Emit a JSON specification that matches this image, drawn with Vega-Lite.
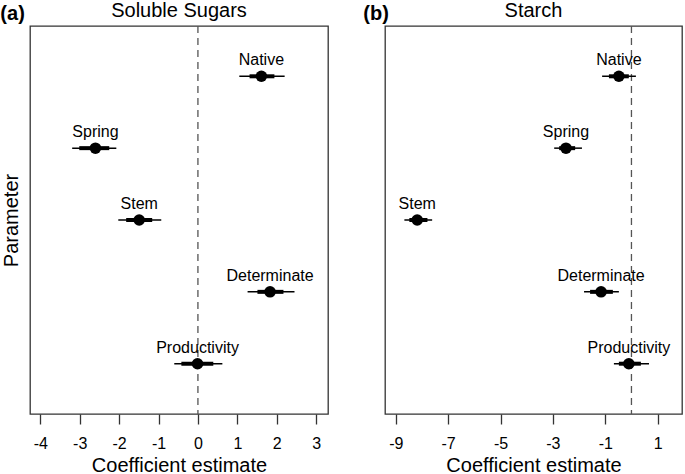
{
  "$schema": "https://vega.github.io/schema/vega-lite/v6.json",
  "padding": {"left": 0, "top": 0, "right": 0, "bottom": 0},
  "config": {
    "font": "Liberation Sans",
    "view": {"stroke": "#333", "strokeWidth": 1.3},
    "axis": {"grid": false, "labelFontSize": 16, "labelColor": "#000", "titleFontSize": 20, "titleFontWeight": "normal", "titleColor": "#000", "tickColor": "#333", "tickSize": 10, "tickWidth": 1.3, "domain": false, "labelPadding": 11, "titlePadding": 4, "labelExpr": "'' + datum.value"},
    "title": {"fontSize": 20, "fontWeight": "normal", "color": "#000", "offset": 4},
    "concat": {"spacing": 34}
  },
  "datasets": {
    "est": [
      {"panel": "a", "param": "Native", "pos": 5, "est": 1.61, "lo": 1.05, "hi": 2.20, "lo50": 1.31, "hi50": 1.94},
      {"panel": "a", "param": "Spring", "pos": 4, "est": -2.60, "lo": -3.19, "hi": -2.07, "lo50": -3.01, "hi50": -2.25},
      {"panel": "a", "param": "Stem", "pos": 3, "est": -1.49, "lo": -2.02, "hi": -0.93, "lo50": -1.82, "hi50": -1.16},
      {"panel": "a", "param": "Determinate", "pos": 2, "est": 1.83, "lo": 1.26, "hi": 2.45, "lo50": 1.51, "hi50": 2.17},
      {"panel": "a", "param": "Productivity", "pos": 1, "est": -0.01, "lo": -0.60, "hi": 0.62, "lo50": -0.42, "hi50": 0.39},
      {"panel": "b", "param": "Native", "pos": 5, "est": -0.48, "lo": -1.12, "hi": 0.17, "lo50": -0.86, "hi50": -0.10},
      {"panel": "b", "param": "Spring", "pos": 4, "est": -2.50, "lo": -2.95, "hi": -1.89, "lo50": -2.76, "hi50": -2.15},
      {"panel": "b", "param": "Stem", "pos": 3, "est": -8.18, "lo": -8.67, "hi": -7.61, "lo50": -8.48, "hi50": -7.79},
      {"panel": "b", "param": "Determinate", "pos": 2, "est": -1.16, "lo": -1.81, "hi": -0.48, "lo50": -1.58, "hi50": -0.71},
      {"panel": "b", "param": "Productivity", "pos": 1, "est": -0.10, "lo": -0.67, "hi": 0.67, "lo50": -0.48, "hi50": 0.36}
    ]
  },
  "hconcat": [
    {
      "title": {"text": "(a)", "anchor": "start", "fontWeight": "bold", "dy": 27},
      "vconcat": [
        {
          "width": 298, "height": 388,
          "title": "Soluble Sugars",
          "data": {"name": "est"},
          "layer": [
            {
              "data": {"values": [{"z": 0}]},
              "mark": {"type": "rule", "strokeDash": [7, 5], "color": "#555", "strokeWidth": 1.3},
              "encoding": {"x": {"field": "z", "type": "quantitative", "scale": {"domain": [-4.26, 3.30], "nice": false, "zero": false}, "axis": {"values": [-4, -3, -2, -1, 0, 1, 2, 3], "title": "Coefficient estimate"}}}
            },
            {
              "transform": [{"filter": "datum.panel == 'a'"}],
              "mark": {"type": "rule", "color": "#000", "strokeWidth": 1.5},
              "encoding": {
                "x": {"field": "lo", "type": "quantitative", "scale": {"domain": [-4.26, 3.30], "nice": false, "zero": false}, "axis": {"values": [-4, -3, -2, -1, 0, 1, 2, 3], "title": "Coefficient estimate"}},
                "x2": {"field": "hi"},
                "y": {"field": "pos", "type": "quantitative", "scale": {"domain": [0.3, 5.7], "nice": false, "zero": false}, "axis": {"title": "Parameter", "labels": false, "ticks": false, "titlePadding": 9}}
              }
            },
            {
              "transform": [{"filter": "datum.panel == 'a'"}],
              "mark": {"type": "rule", "color": "#000", "strokeWidth": 4},
              "encoding": {
                "x": {"field": "lo50", "type": "quantitative", "scale": {"domain": [-4.26, 3.30], "nice": false, "zero": false}, "axis": {"values": [-4, -3, -2, -1, 0, 1, 2, 3], "title": "Coefficient estimate"}},
                "x2": {"field": "hi50"},
                "y": {"field": "pos", "type": "quantitative", "scale": {"domain": [0.3, 5.7], "nice": false, "zero": false}, "axis": {"title": "Parameter", "labels": false, "ticks": false, "titlePadding": 9}}
              }
            },
            {
              "transform": [{"filter": "datum.panel == 'a'"}],
              "mark": {"type": "circle", "color": "#000", "size": 133, "opacity": 1},
              "encoding": {
                "x": {"field": "est", "type": "quantitative", "scale": {"domain": [-4.26, 3.30], "nice": false, "zero": false}, "axis": {"values": [-4, -3, -2, -1, 0, 1, 2, 3], "title": "Coefficient estimate"}},
                "y": {"field": "pos", "type": "quantitative", "scale": {"domain": [0.3, 5.7], "nice": false, "zero": false}, "axis": {"title": "Parameter", "labels": false, "ticks": false, "titlePadding": 9}}
              }
            },
            {
              "transform": [{"filter": "datum.panel == 'a'"}],
              "mark": {"type": "text", "color": "#000", "fontSize": 16, "dy": -11, "baseline": "alphabetic"},
              "encoding": {
                "x": {"field": "est", "type": "quantitative", "scale": {"domain": [-4.26, 3.30], "nice": false, "zero": false}, "axis": {"values": [-4, -3, -2, -1, 0, 1, 2, 3], "title": "Coefficient estimate"}},
                "y": {"field": "pos", "type": "quantitative", "scale": {"domain": [0.3, 5.7], "nice": false, "zero": false}, "axis": {"title": "Parameter", "labels": false, "ticks": false, "titlePadding": 9}},
                "text": {"field": "param"}
              }
            }
          ]
        }
      ]
    },
    {
      "title": {"text": "(b)", "anchor": "start", "fontWeight": "bold", "dy": 27, "dx": -21},
      "vconcat": [
        {
          "width": 297, "height": 388,
          "title": "Starch",
          "data": {"name": "est"},
          "layer": [
            {
              "data": {"values": [{"z": 0}]},
              "mark": {"type": "rule", "strokeDash": [7, 5], "color": "#555", "strokeWidth": 1.3},
              "encoding": {"x": {"field": "z", "type": "quantitative", "scale": {"domain": [-9.41, 1.93], "nice": false, "zero": false}, "axis": {"values": [-9, -7, -5, -3, -1, 1], "title": "Coefficient estimate"}}}
            },
            {
              "transform": [{"filter": "datum.panel == 'b'"}],
              "mark": {"type": "rule", "color": "#000", "strokeWidth": 1.5},
              "encoding": {
                "x": {"field": "lo", "type": "quantitative", "scale": {"domain": [-9.41, 1.93], "nice": false, "zero": false}, "axis": {"values": [-9, -7, -5, -3, -1, 1], "title": "Coefficient estimate"}},
                "x2": {"field": "hi"},
                "y": {"field": "pos", "type": "quantitative", "scale": {"domain": [0.3, 5.7], "nice": false, "zero": false}, "axis": null}
              }
            },
            {
              "transform": [{"filter": "datum.panel == 'b'"}],
              "mark": {"type": "rule", "color": "#000", "strokeWidth": 4},
              "encoding": {
                "x": {"field": "lo50", "type": "quantitative", "scale": {"domain": [-9.41, 1.93], "nice": false, "zero": false}, "axis": {"values": [-9, -7, -5, -3, -1, 1], "title": "Coefficient estimate"}},
                "x2": {"field": "hi50"},
                "y": {"field": "pos", "type": "quantitative", "scale": {"domain": [0.3, 5.7], "nice": false, "zero": false}, "axis": null}
              }
            },
            {
              "transform": [{"filter": "datum.panel == 'b'"}],
              "mark": {"type": "circle", "color": "#000", "size": 133, "opacity": 1},
              "encoding": {
                "x": {"field": "est", "type": "quantitative", "scale": {"domain": [-9.41, 1.93], "nice": false, "zero": false}, "axis": {"values": [-9, -7, -5, -3, -1, 1], "title": "Coefficient estimate"}},
                "y": {"field": "pos", "type": "quantitative", "scale": {"domain": [0.3, 5.7], "nice": false, "zero": false}, "axis": null}
              }
            },
            {
              "transform": [{"filter": "datum.panel == 'b'"}],
              "mark": {"type": "text", "color": "#000", "fontSize": 16, "dy": -11, "baseline": "alphabetic"},
              "encoding": {
                "x": {"field": "est", "type": "quantitative", "scale": {"domain": [-9.41, 1.93], "nice": false, "zero": false}, "axis": {"values": [-9, -7, -5, -3, -1, 1], "title": "Coefficient estimate"}},
                "y": {"field": "pos", "type": "quantitative", "scale": {"domain": [0.3, 5.7], "nice": false, "zero": false}, "axis": null},
                "text": {"field": "param"}
              }
            }
          ]
        }
      ]
    }
  ]
}
